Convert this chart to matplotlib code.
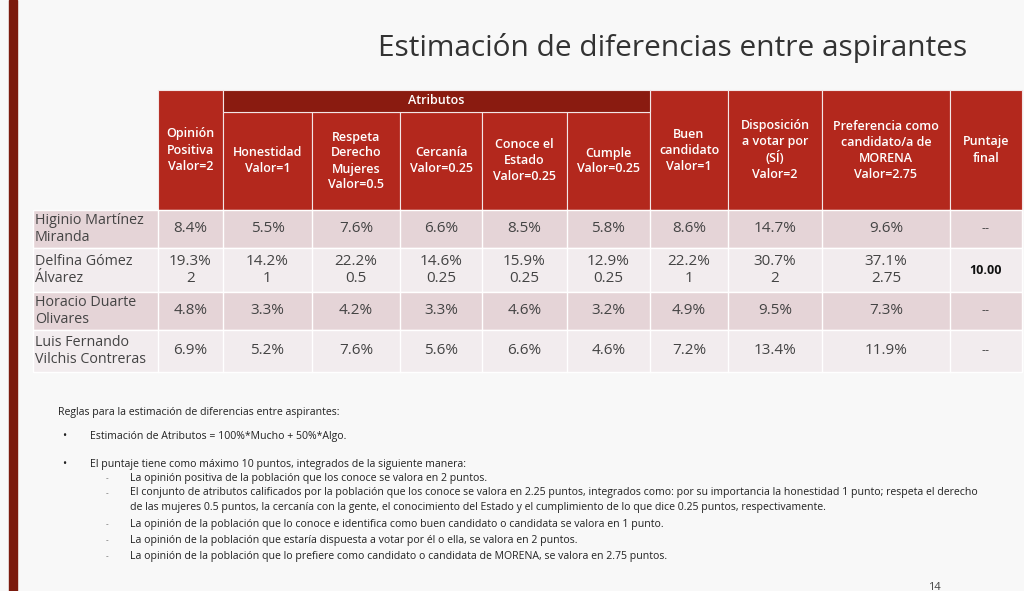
import matplotlib
matplotlib.use("Agg")
import matplotlib.pyplot as plt
from matplotlib.patches import Rectangle

plt.rcParams["font.family"] = ["Open Sans", "DejaVu Sans"]

# -----------------------------
# Data
# -----------------------------
headers = ["Opinión\nPositiva\nValor=2", "Honestidad\nValor=1", "Respeta\nDerecho\nMujeres\nValor=0.5",
           "Cercanía\nValor=0.25", "Conoce el\nEstado\nValor=0.25", "Cumple\nValor=0.25",
           "Buen\ncandidato\nValor=1", "Disposición\na votar por\n(SÍ)\nValor=2",
           "Preferencia como\ncandidato/a de\nMORENA\nValor=2.75", "Puntaje\nfinal"]
names = ["Higinio Martínez\nMiranda", "Delfina Gómez\nÁlvarez", "Horacio Duarte\nOlivares",
         "Luis Fernando\nVilchis Contreras"]
values = [
    ["8.4%", "5.5%", "7.6%", "6.6%", "8.5%", "5.8%", "8.6%", "14.7%", "9.6%"],
    ["19.3%\n2", "14.2%\n1", "22.2%\n0.5", "14.6%\n0.25", "15.9%\n0.25", "12.9%\n0.25",
     "22.2%\n1", "30.7%\n2", "37.1%\n2.75"],
    ["4.8%", "3.3%", "4.2%", "3.3%", "4.6%", "3.2%", "4.9%", "9.5%", "7.3%"],
    ["6.9%", "5.2%", "7.6%", "5.6%", "6.6%", "4.6%", "7.2%", "13.4%", "11.9%"],
]
final_scores = ["--", "10.00", "--", "--"]

rules_title = "Reglas para la estimación de diferencias entre aspirantes:"
bullets = ["Estimación de Atributos = 100%*Mucho + 50%*Algo.",
           "El puntaje tiene como máximo 10 puntos, integrados de la siguiente manera:"]
sub_items = [
    "La opinión positiva de la población que los conoce se valora en 2 puntos.",
    "El conjunto de atributos calificados por la población que los conoce se valora en 2.25 puntos, integrados como: por su importancia la honestidad 1 punto; respeta el derecho\nde las mujeres 0.5 puntos, la cercanía con la gente, el conocimiento del Estado y el cumplimiento de lo que dice 0.25 puntos, respectivamente.",
    "La opinión de la población que lo conoce e identifica como buen candidato o candidata se valora en 1 punto.",
    "La opinión de la población que estaría dispuesta a votar por él o ella, se valora en 2 puntos.",
    "La opinión de la población que lo prefiere como candidato o candidata de MORENA, se valora en 2.75 puntos.",
]

# -----------------------------
# Layout (pixels)
# -----------------------------
col_edges = [158, 223, 312, 400, 482, 567, 650, 728, 822, 950, 1022]
row_edges = [210, 248, 292, 330, 372]
name_left = 33
head_top, band_bottom = 90, 112
RED, DARK = "#b3281d", "#8a1b10"
ROW_BG = ["#e5d4d7", "#f2ecee"]

fig = plt.figure(figsize=(10.24, 5.91), dpi=100, facecolor="#f8f8f8")
ax = fig.add_axes([0, 0, 1, 1])
ax.set_xlim(0, 1024)
ax.set_ylim(591, 0)
ax.axis("off")

ax.add_patch(Rectangle((9, 0), 8, 591, color="#7b1a0d"))
ax.text(673, 48, "Estimación de diferencias entre aspirantes", fontsize=21.5,
        ha="center", va="center", color="#333333")

# header
for i, h in enumerate(headers):
    x0, x1 = col_edges[i], col_edges[i + 1]
    top = band_bottom if 1 <= i <= 5 else head_top
    ax.add_patch(Rectangle((x0, top), x1 - x0, row_edges[0] - top, facecolor=RED,
                           edgecolor="#f3e6e6", lw=0.8))
    ax.text((x0 + x1) / 2, (top + row_edges[0]) / 2, h, ha="center", va="center",
            color="white", fontsize=9, fontweight="semibold", linespacing=1.3)
ax.add_patch(Rectangle((col_edges[1], head_top), col_edges[6] - col_edges[1],
                       band_bottom - head_top, facecolor=DARK, edgecolor="#f3e6e6", lw=0.8))
ax.text((col_edges[1] + col_edges[6]) / 2, (head_top + band_bottom) / 2, "Atributos",
        ha="center", va="center", color="white", fontsize=9, fontweight="semibold")

# body
for r, name in enumerate(names):
    y0, y1 = row_edges[r], row_edges[r + 1]
    ax.add_patch(Rectangle((name_left, y0), col_edges[-1] - name_left, y1 - y0,
                           facecolor=ROW_BG[r % 2], edgecolor="white", lw=1))
    ax.text(name_left + 2, (y0 + y1) / 2, name, ha="left", va="center",
            fontsize=10.3, color="#444444", linespacing=1.15)
    for c, v in enumerate(values[r] + [final_scores[r]]):
        x0, x1 = col_edges[c], col_edges[c + 1]
        ax.plot([x0, x0], [y0, y1], color="white", lw=1)
        bold = c == 9 and v != "--"
        ax.text((x0 + x1) / 2, (y0 + y1) / 2, v, ha="center", va="center",
                fontsize=9 if c == 9 else 11, color="#111111" if bold else "#444444",
                fontweight="bold" if bold else "normal", linespacing=1.25)

# rules
fs = 7.6
ax.text(58, 412, rules_title, fontsize=fs, va="center", color="#222222")
for y, b in zip([437, 464], bullets):
    ax.text(62, y, "•", fontsize=8, va="center", color="#222222")
    ax.text(90, y, b, fontsize=fs, va="center", color="#222222")
sub_y = [479, 487, 525, 541, 557]
for y, s in zip(sub_y, sub_items):
    multi = "\n" in s
    ax.text(106, y + 7 if multi else y, "-", fontsize=6, va="center", color="#555555")
    ax.text(130, y, s, fontsize=fs, va="top" if multi else "center",
            color="#222222", linespacing=1.45)
ax.text(928, 587, "14", fontsize=8, va="center", color="#444444")

fig.savefig("out.png", dpi=100, facecolor=fig.get_facecolor())
plt.close(fig)
